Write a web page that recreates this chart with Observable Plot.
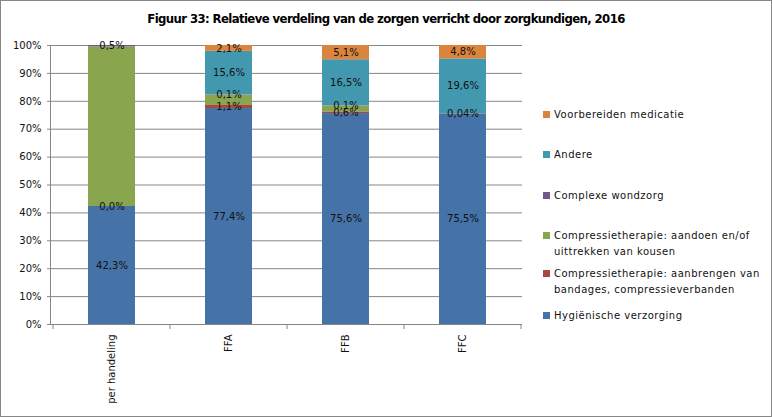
<!DOCTYPE html>
<html><head><meta charset="utf-8">
<script src="https://cdn.jsdelivr.net/npm/d3@7"></script>
<script src="https://cdn.jsdelivr.net/npm/@observablehq/plot@0.6"></script>
<style>
body{margin:0;background:#fff}
#wrap{position:relative;width:772px;height:417px;overflow:hidden;font-family:"DejaVu Sans",sans-serif;background:#fff}
#border{position:absolute;left:0;top:0;width:772px;height:417px;border:1px solid #878787;box-sizing:border-box;pointer-events:none}
#title{position:absolute;left:0;width:772px;top:11px;text-align:center;font-weight:bold;font-size:13px;letter-spacing:-0.6px;font-stretch:condensed;font-family:"DejaVu Sans Condensed","DejaVu Sans",sans-serif;color:#000}
#chart{position:absolute;left:0;top:0}
.lg{position:absolute;left:543px;width:225px;font-size:10px;letter-spacing:0.5px;line-height:16px;color:#111;padding-left:11px;white-space:nowrap}
.sw{position:absolute;left:0;top:4px;width:7px;height:7px}
</style>
</head><body>
<div id="wrap">
  <div id="chart"></div>
  <div id="title">Figuur 33: Relatieve verdeling van de zorgen verricht door zorgkundigen, 2016</div>
  <div id="legend"></div>
  <div id="border"></div>
</div>
<script>
// ---- data ----
const categories = ["per handeling", "FFA", "FFB", "FFC"];
const series = [
  "Hygiënische verzorging",
  "Compressietherapie: aanbrengen van bandages, compressieverbanden",
  "Compressietherapie: aandoen en/of uittrekken van kousen",
  "Complexe wondzorg",
  "Andere",
  "Voorbereiden medicatie"
];
const colors = ["#4572A7", "#AA4643", "#89A54E", "#71588F", "#4198AF", "#DB843D"];
const hygienische = [42.3, 77.4, 75.6, 75.5];
const bandages    = [0.0, 1.1, 0.6, 0.04];
const kousen      = [57.2, 3.7, 2.1, 0.06];
const wondzorg    = [0.5, 0.1, 0.1, null];
const andere      = [null, 15.6, 16.5, 19.6];
const medicatie   = [null, 2.1, 5.1, 4.8];
const showLabels  = [true, true, false, true, true, true];
const yTicks = [0, 10, 20, 30, 40, 50, 60, 70, 80, 90, 100];

// ---- table ----
const valuesBySeries = [hygienische, bandages, kousen, wondzorg, andere, medicatie];
const fmt = v => (v > 0 && v < 0.05 ? v.toFixed(2) : v.toFixed(1)).replace(".", ",") + "%";
const rows = [];
series.forEach((s, si) => categories.forEach((c, ci) => {
  const v = valuesBySeries[si][ci];
  if (v == null) return;
  rows.push({cat: c, series: s, value: v, label: showLabels[si] ? fmt(v) : null});
}));

const grid = "#868686";
const chart = Plot.plot({
  width: 772,
  height: 417,
  marginLeft: 51,
  marginRight: 250,
  marginTop: 45,
  marginBottom: 93,
  style: {fontFamily: "DejaVu Sans, sans-serif", fontSize: "10px", color: "#111", background: "transparent"},
  x: {domain: categories, paddingInner: 0.6, paddingOuter: 0.3, label: null},
  y: {domain: [0, 100], label: null},
  color: {domain: series, range: colors},
  marks: [
    Plot.gridY(yTicks, {stroke: grid, strokeOpacity: 1}),
    Plot.barY(rows, Plot.stackY({x: "cat", y: "value", fill: "series", order: series})),
    Plot.text(rows, Plot.stackY({x: "cat", y: "value", z: "series", order: series, text: "label", fill: "#111", fontSize: 10})),
    Plot.ruleY([0], {stroke: grid}),
    Plot.axisY({ticks: yTicks, tickFormat: d => d + "%", tickSize: 4, tickPadding: 6, stroke: grid, label: null, fill: "#111"}),
    Plot.axisX({tickSize: 0, tickRotate: -90, tickPadding: 10, label: null, fill: "#111"}),
    Plot.ruleX(categories, {
      x: d => d,
      render(index, scales, values, dimensions) {
        const x = scales.x, y = scales.y;
        const step = x.step(), bw = x.bandwidth();
        const [r0, r1] = x.range();
        const y0 = y(0), yTop = y(100);
        const g = d3.create("svg:g").attr("stroke", grid).attr("fill", "none");
        g.append("line").attr("x1", r0 - 0.5).attr("x2", r0 - 0.5).attr("y1", yTop).attr("y2", y0 + 0.5);
        const bounds = categories.map(c => x(c) - (step - bw) / 2);
        bounds.push(bounds[bounds.length - 1] + step);
        bounds.forEach(b => g.append("line").attr("x1", b).attr("x2", b).attr("y1", y0).attr("y2", y0 + 5));
        return g.node();
      }
    })
  ]
});
document.getElementById("chart").append(chart);

// ---- legend ----
const legendTops = [107, 147, 188, 228, 266, 308];
const legend = document.getElementById("legend");
const legendOrder = series.map((s, i) => i).reverse();
const breaks = {
  "Compressietherapie: aanbrengen van bandages, compressieverbanden": ["Compressietherapie: aanbrengen van", "bandages, compressieverbanden"],
  "Compressietherapie: aandoen en/of uittrekken van kousen": ["Compressietherapie: aandoen en/of", "uittrekken van kousen"]
};
legendOrder.forEach((si, k) => {
  const d = document.createElement("div");
  d.className = "lg";
  d.style.top = legendTops[k] + "px";
  const sw = document.createElement("div");
  sw.className = "sw";
  sw.style.background = colors[si];
  d.append(sw);
  const lines = breaks[series[si]] || [series[si]];
  lines.forEach((t, j) => { if (j) d.append(document.createElement("br")); d.append(document.createTextNode(t)); });
  legend.append(d);
});
</script>
</body></html>
